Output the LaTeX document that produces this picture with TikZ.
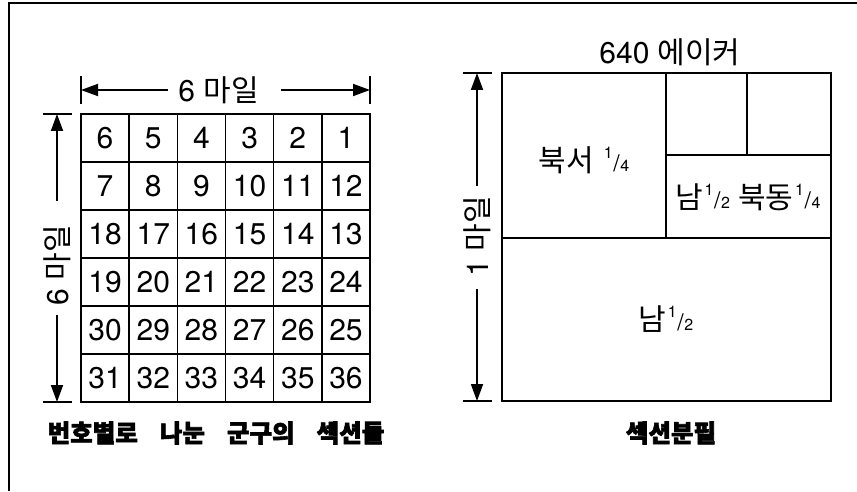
\documentclass[tikz,border=0pt]{standalone}
\usepackage{fontspec}
\setmainfont{TeX Gyre Heros}
\newfontfamily\kr{Noto Sans CJK KR}
\newfontfamily\krh{Noto Sans CJK KR}[BoldFeatures={FakeBold=2.5}]
\usetikzlibrary{arrows.meta}

\newcommand{\frc}[2]{\kern.05em\raisebox{.42em}{\fontsize{16}{16}\selectfont #1}\kern.02em{\fontsize{23}{23}\selectfont /}\kern.02em{\fontsize{16}{16}\selectfont #2}}
\newcommand{\hdfont}{\krh\bfseries\fontsize{24.5}{30}\selectfont\spaceskip=.9em\relax}

\tikzset{
  lbl/.style={font=\fontsize{30}{36}\selectfont, inner sep=0pt},
  hd/.style={font=\hdfont, inner sep=0pt},
  dimline/.style={line width=1.8pt, -{Triangle[length=17pt,width=12pt]}},
  tickline/.style={line width=1.2pt},
  secline/.style={line width=1.5pt}
}

\begin{document}
\begin{tikzpicture}[x=1pt,y=1pt]
\useasboundingbox (0,0) rectangle (857,491);

\draw[line width=2.5pt] (9,0) -- (9,488) -- (857,488);

% township
\draw[secline] (81,89) rectangle (370,377);
\foreach \i in {1,...,5} {
  \draw[secline] ({81+\i*48.17},89) -- ({81+\i*48.17},377);
  \draw[secline] (81,{89+\i*48}) -- (370,{89+\i*48});
}

\foreach \n [count=\k from 0] in {6,5,4,3,2,1,7,8,9,10,11,12,18,17,16,15,14,13,19,20,21,22,23,24,30,29,28,27,26,25,31,32,33,34,35,36} {
  \pgfmathtruncatemacro\col{mod(\k,6)}
  \pgfmathtruncatemacro\row{\k/6}
  \node[lbl] (sec\n) at ({81+48.17*(\col+0.5)},{377-48*(\row+0.5)}) {\n};
}

\draw[tickline] (81,387) -- (81,415);
\draw[tickline] (370,387) -- (370,415);
\coordinate (wL) at (81,401);
\coordinate (wR) at (370,401);
\node[lbl] (wlbl) at (218.5,401) {6 {\kr 마일}};
\draw[dimline, shorten <=10pt] (wlbl) -- (wL);
\draw[dimline, shorten <=22pt] (wlbl) -- (wR);

\draw[tickline] (43,377) -- (72,377);
\draw[tickline] (43,89) -- (72,89);
\coordinate (hT) at (57,377);
\coordinate (hB) at (57,89);
\node[lbl, rotate=90] (hlbl) at (57,226) {6 {\kr 마일}};
\draw[dimline, shorten <=24pt] (hlbl) -- (hT);
\draw[dimline, shorten <=10pt] (hlbl) -- (hB);

\node[hd] (ttlL) at (216,58) {번호별로 나눈 군구의 섹션들};

% section
\draw[secline] (502,90) rectangle (831,418);
\draw[secline] (502,253) -- (831,253);
\draw[secline] (666,253) -- (666,418);
\draw[secline] (666,336) -- (831,336);
\draw[secline] (747,336) -- (747,418);

\node[lbl] (acre) at (670,439) {640 {\kr 에이커}};

\draw[tickline] (463,418) -- (492,418);
\draw[tickline] (463,90) -- (492,90);
\coordinate (mT) at (477,418);
\coordinate (mB) at (477,90);
\node[lbl, rotate=90] (mlbl) at (477,255) {1 {\kr 마일}};
\draw[dimline, shorten <=10pt] (mlbl) -- (mT);
\draw[dimline, shorten <=13pt] (mlbl) -- (mB);

\node[lbl] (nw) at (584,331) {{\kr 북서} \frc14};
\node[lbl] (ne) at (748,294) {{\kr 남}\frc12 {\kr 북동}\frc14};
\node[lbl] (south) at (666,172) {{\kr 남}\frc12};

\node[hd] (ttlR) at (671,58) {섹션분필};

\end{tikzpicture}
\end{document}
